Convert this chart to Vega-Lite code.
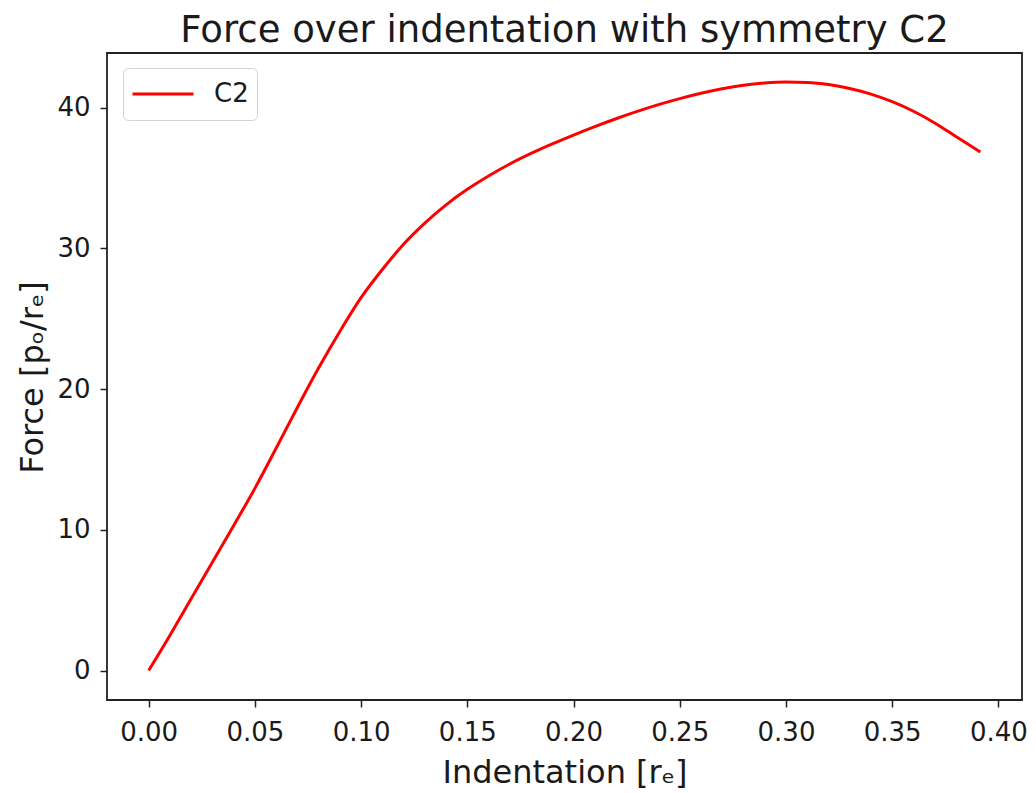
{
  "$schema": "https://vega.github.io/schema/vega-lite/v6.json",
  "width": 915,
  "height": 647,
  "autosize": "none",
  "padding": {"left": 107, "top": 53, "right": 14, "bottom": 93},
  "background": "white",
  "config": {
    "font": "DejaVu Sans",
    "view": {"stroke": "#222222", "strokeWidth": 1.8},
    "axis": {
      "grid": false,
      "domain": false,
      "tickColor": "#222222",
      "tickWidth": 1.5,
      "tickSize": 7,
      "labelFont": "DejaVu Sans",
      "labelFontSize": 26,
      "labelColor": "#1a1a1a",
      "titleFont": "DejaVu Sans",
      "titleFontSize": 32,
      "titleFontWeight": "normal",
      "titleColor": "#1a1a1a"
    }
  },
  "title": {
    "text": "Force over indentation with symmetry C2",
    "font": "DejaVu Sans",
    "fontSize": 37,
    "fontWeight": "normal",
    "color": "#1a1a1a",
    "anchor": "middle",
    "frame": "group",
    "baseline": "alphabetic",
    "offset": 11,
    "dy": 37
  },
  "data": {
    "values": [
      {"indentation": 0.0, "force": 0.0, "series": "C2"},
      {"indentation": 0.01, "force": 2.5, "series": "C2"},
      {"indentation": 0.02, "force": 5.1, "series": "C2"},
      {"indentation": 0.03, "force": 7.7, "series": "C2"},
      {"indentation": 0.04, "force": 10.3, "series": "C2"},
      {"indentation": 0.05, "force": 12.95, "series": "C2"},
      {"indentation": 0.06, "force": 15.8, "series": "C2"},
      {"indentation": 0.07, "force": 18.7, "series": "C2"},
      {"indentation": 0.08, "force": 21.5, "series": "C2"},
      {"indentation": 0.09, "force": 24.1, "series": "C2"},
      {"indentation": 0.10, "force": 26.5, "series": "C2"},
      {"indentation": 0.11, "force": 28.5, "series": "C2"},
      {"indentation": 0.12, "force": 30.3, "series": "C2"},
      {"indentation": 0.13, "force": 31.8, "series": "C2"},
      {"indentation": 0.14, "force": 33.1, "series": "C2"},
      {"indentation": 0.15, "force": 34.2, "series": "C2"},
      {"indentation": 0.16, "force": 35.15, "series": "C2"},
      {"indentation": 0.17, "force": 36.0, "series": "C2"},
      {"indentation": 0.18, "force": 36.75, "series": "C2"},
      {"indentation": 0.19, "force": 37.43, "series": "C2"},
      {"indentation": 0.20, "force": 38.06, "series": "C2"},
      {"indentation": 0.21, "force": 38.66, "series": "C2"},
      {"indentation": 0.22, "force": 39.22, "series": "C2"},
      {"indentation": 0.23, "force": 39.74, "series": "C2"},
      {"indentation": 0.24, "force": 40.22, "series": "C2"},
      {"indentation": 0.25, "force": 40.65, "series": "C2"},
      {"indentation": 0.26, "force": 41.03, "series": "C2"},
      {"indentation": 0.27, "force": 41.35, "series": "C2"},
      {"indentation": 0.28, "force": 41.6, "series": "C2"},
      {"indentation": 0.29, "force": 41.76, "series": "C2"},
      {"indentation": 0.30, "force": 41.83, "series": "C2"},
      {"indentation": 0.31, "force": 41.8, "series": "C2"},
      {"indentation": 0.32, "force": 41.65, "series": "C2"},
      {"indentation": 0.33, "force": 41.37, "series": "C2"},
      {"indentation": 0.34, "force": 40.97, "series": "C2"},
      {"indentation": 0.35, "force": 40.43, "series": "C2"},
      {"indentation": 0.36, "force": 39.75, "series": "C2"},
      {"indentation": 0.37, "force": 38.92, "series": "C2"},
      {"indentation": 0.38, "force": 37.95, "series": "C2"},
      {"indentation": 0.3915, "force": 36.85, "series": "C2"}
    ]
  },
  "mark": {"type": "line", "strokeWidth": 3, "interpolate": "monotone"},
  "encoding": {
    "x": {
      "field": "indentation",
      "type": "quantitative",
      "scale": {"domain": [-0.0196, 0.4111], "nice": false, "zero": false},
      "axis": {
        "title": "Indentation [rₑ]",
        "values": [0, 0.05, 0.1, 0.15, 0.2, 0.25, 0.3, 0.35, 0.4],
        "format": ".2f",
        "labelPadding": 12,
        "titleBaseline": "alphabetic",
        "titleX": 457.5,
        "titleY": 82,
        "titleAlign": "center"
      }
    },
    "y": {
      "field": "force",
      "type": "quantitative",
      "scale": {"domain": [-2.09, 43.89], "nice": false, "zero": false},
      "axis": {
        "title": "Force [pₒ/rₑ]",
        "values": [0, 10, 20, 30, 40],
        "format": "d",
        "labelPadding": 10,
        "titleBaseline": "alphabetic",
        "titleAngle": -90,
        "titleX": -65,
        "titleY": 324,
        "titleAlign": "center"
      }
    },
    "color": {
      "field": "series",
      "type": "nominal",
      "scale": {"range": ["#ff0000"]},
      "legend": {
        "title": null,
        "orient": "none",
        "legendX": 16,
        "legendY": 15,
        "symbolType": "stroke",
        "symbolSize": 3721,
        "symbolStrokeWidth": 3,
        "clipHeight": 36,
        "labelFontSize": 26,
        "labelFont": "DejaVu Sans",
        "labelColor": "#1a1a1a",
        "labelOffset": 19,
        "padding": 8,
        "fillColor": "white",
        "strokeColor": "#d4d4d4",
        "cornerRadius": 5
      }
    }
  }
}
